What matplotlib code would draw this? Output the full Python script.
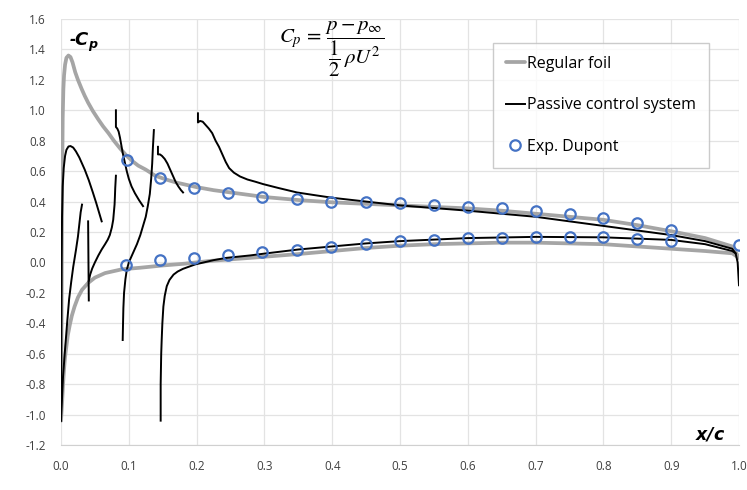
import numpy as np
import matplotlib
matplotlib.use("Agg")
import matplotlib.pyplot as plt

# Regular foil (grey), -Cp along x/c
foil_up_x = [0.0, 0.0008, 0.0015, 0.0025, 0.0035, 0.0045, 0.006, 0.008, 0.011, 0.014, 0.017,
             0.021, 0.025, 0.0305, 0.035, 0.040, 0.047, 0.055, 0.062, 0.070, 0.078, 0.087,
             0.097, 0.107, 0.114, 0.125, 0.139, 0.155, 0.17, 0.185, 0.2, 0.225, 0.25, 0.3,
             0.35, 0.4, 0.45, 0.5, 0.55, 0.6, 0.65, 0.7, 0.75, 0.8, 0.85, 0.9, 0.95, 0.99, 1.0]
foil_up_y = [-1.04, -0.4, 0.4, 0.95, 1.14, 1.23, 1.30, 1.345, 1.36, 1.35, 1.315,
             1.25, 1.20, 1.14, 1.095, 1.05, 0.995, 0.94, 0.895, 0.85, 0.80, 0.75,
             0.70, 0.66, 0.636, 0.61, 0.57, 0.545, 0.525, 0.51, 0.495, 0.475, 0.46, 0.43,
             0.41, 0.395, 0.385, 0.375, 0.365, 0.355, 0.34, 0.32, 0.30, 0.28, 0.245, 0.205,
             0.16, 0.105, 0.03]
foil_lo_x = [0.0, 0.0008, 0.0015, 0.003, 0.0045, 0.006, 0.008, 0.01, 0.013, 0.016, 0.02,
             0.025, 0.031, 0.04, 0.05, 0.065, 0.09, 0.1165, 0.15, 0.183, 0.22, 0.279, 0.35,
             0.4, 0.45, 0.5, 0.55, 0.6, 0.65, 0.7, 0.75, 0.8, 0.85, 0.9, 0.95, 0.99, 1.0]
foil_lo_y = [-1.04, -0.98, -0.93, -0.80, -0.70, -0.62, -0.55, -0.48, -0.41, -0.35, -0.29,
             -0.23, -0.18, -0.135, -0.10, -0.07, -0.045, -0.035, -0.02, -0.008, 0.01, 0.03, 0.055,
             0.075, 0.095, 0.11, 0.12, 0.125, 0.13, 0.13, 0.125, 0.12, 0.105, 0.09, 0.075, 0.06, 0.03]

# Passive control system (black), broken into pieces at the slots
pcs_1_x = [0.0, 0.0005, 0.001, 0.0015, 0.0025, 0.004, 0.006, 0.008, 0.011, 0.014, 0.018,
           0.022, 0.027, 0.031, 0.035, 0.041, 0.047, 0.052, 0.056, 0.06]
pcs_1_y = [-1.04, -0.5, 0.0, 0.3, 0.5, 0.62, 0.70, 0.74, 0.762, 0.765, 0.755,
           0.73, 0.69, 0.65, 0.61, 0.54, 0.46, 0.39, 0.33, 0.27]
pcs_2_x = [0.0, 0.003, 0.006, 0.009, 0.012, 0.015, 0.018, 0.022, 0.025, 0.029, 0.031]
pcs_2_y = [-1.04, -0.75, -0.57, -0.40, -0.24, -0.13, -0.03, 0.08, 0.17, 0.33, 0.38]
pcs_3_x = [0.040, 0.0405, 0.041]
pcs_3_y = [0.27, 0.0, -0.25]
pcs_4_x = [0.041, 0.043, 0.046, 0.05, 0.055, 0.06, 0.065, 0.069, 0.072, 0.075, 0.077,
           0.078, 0.079, 0.0795, 0.080, 0.081]
pcs_4_y = [-0.12, -0.08, -0.04, 0.0, 0.045, 0.085, 0.12, 0.15, 0.18, 0.23, 0.28,
           0.33, 0.38, 0.43, 0.49, 0.57]
pcs_5_x = [0.081, 0.081, 0.083, 0.085, 0.087, 0.089, 0.091, 0.094, 0.097, 0.100, 0.104,
           0.109, 0.115, 0.121]
pcs_5_y = [1.0, 0.89, 0.88, 0.86, 0.82, 0.77, 0.72, 0.66, 0.60, 0.55, 0.5,
           0.455, 0.41, 0.37]
pcs_6_x = [0.091, 0.0915, 0.092, 0.093, 0.095, 0.097, 0.100, 0.104, 0.108, 0.112, 0.117,
           0.121, 0.125, 0.128, 0.131, 0.133, 0.1345, 0.1355, 0.137]
pcs_6_y = [-0.51, -0.4, -0.3, -0.2, -0.11, -0.05, 0.0, 0.04, 0.08, 0.12, 0.18,
           0.24, 0.3, 0.37, 0.45, 0.55, 0.65, 0.75, 0.87]
pcs_7_x = [0.143, 0.143, 0.146, 0.149, 0.153, 0.157, 0.161, 0.165, 0.169, 0.173, 0.177, 0.18]
pcs_7_y = [0.76, 0.71, 0.71, 0.70, 0.68, 0.65, 0.61, 0.57, 0.53, 0.50, 0.475, 0.46]
pcs_8_x = [0.147, 0.147, 0.1478, 0.1485, 0.1495, 0.151, 0.153, 0.156, 0.16, 0.166, 0.172,
           0.18, 0.198, 0.225, 0.244, 0.279, 0.3, 0.35, 0.4, 0.45, 0.5, 0.55, 0.6, 0.7,
           0.8, 0.9, 0.95, 0.99, 0.995]
pcs_8_y = [-1.04, -0.8, -0.6, -0.51, -0.4, -0.29, -0.22, -0.156, -0.115, -0.08, -0.06,
           -0.042, -0.013, 0.015, 0.03, 0.046, 0.058, 0.085, 0.105, 0.125, 0.14, 0.15, 0.16, 0.168,
           0.165, 0.148, 0.12, 0.075, 0.06]
pcs_9_x = [0.202, 0.202, 0.205, 0.209, 0.213, 0.218, 0.223, 0.228, 0.233, 0.238, 0.243,
           0.248, 0.255, 0.264, 0.275, 0.287, 0.298, 0.32, 0.348, 0.37, 0.4, 0.45, 0.5,
           0.6, 0.7, 0.75, 0.8, 0.9, 0.95, 0.99, 0.995, 0.998, 1.0]
pcs_9_y = [0.98, 0.92, 0.93, 0.925, 0.905, 0.88, 0.85, 0.80, 0.76, 0.71, 0.66,
           0.62, 0.59, 0.565, 0.545, 0.53, 0.515, 0.49, 0.46, 0.445, 0.425, 0.40, 0.375,
           0.34, 0.30, 0.27, 0.24, 0.18, 0.14, 0.09, 0.06, 0.0, -0.15]
pcs_x = [pcs_1_x, pcs_2_x, pcs_3_x, pcs_4_x, pcs_5_x, pcs_6_x, pcs_7_x, pcs_8_x, pcs_9_x]
pcs_y = [pcs_1_y, pcs_2_y, pcs_3_y, pcs_4_y, pcs_5_y, pcs_6_y, pcs_7_y, pcs_8_y, pcs_9_y]

# Exp. Dupont
exp_up_x = [0.097, 0.146, 0.196, 0.246, 0.296, 0.348, 0.398, 0.45, 0.5, 0.55, 0.6,
            0.65, 0.7, 0.75, 0.8, 0.85, 0.9, 1.0]
exp_up_y = [0.67, 0.555, 0.49, 0.455, 0.43, 0.415, 0.40, 0.40, 0.39, 0.376, 0.365,
            0.355, 0.335, 0.317, 0.29, 0.26, 0.21, 0.115]
exp_lo_x = [0.096, 0.146, 0.196, 0.246, 0.297, 0.348, 0.398, 0.45, 0.5, 0.55, 0.6,
            0.65, 0.7, 0.75, 0.8, 0.85, 0.9]
exp_lo_y = [-0.015, 0.015, 0.03, 0.048, 0.066, 0.08, 0.10, 0.12, 0.14, 0.145, 0.16,
            0.16, 0.17, 0.165, 0.165, 0.155, 0.14]

plt.rcParams['font.family'] = ['Open Sans', 'DejaVu Sans']
plt.rcParams['mathtext.fontset'] = 'custom'
plt.rcParams['mathtext.bf'] = 'DejaVu Sans:bold:italic'

fig = plt.figure(figsize=(7.47, 4.90), dpi=100)
ax = fig.add_axes([61/747, 1-445/490, 678/747, 426/490])

grey = '#a5a5a5'
ax.plot(foil_up_x, foil_up_y, color=grey, lw=2.7, label='Regular foil',
        solid_capstyle='round', solid_joinstyle='round')
ax.plot(foil_lo_x, foil_lo_y, color=grey, lw=2.7, solid_capstyle='round',
        solid_joinstyle='round')

for i in range(len(pcs_x)):
    ax.plot(pcs_x[i], pcs_y[i], color='black', lw=1.4, solid_joinstyle='round',
            label='Passive control system' if i == 0 else None)

ax.plot(exp_up_x, exp_up_y, 'o', mfc='none', mec='#4472c4', mew=1.6, ms=7.5,
        label='Exp. Dupont')
ax.plot(exp_lo_x, exp_lo_y, 'o', mfc='none', mec='#4472c4', mew=1.6, ms=7.5)

ax.set_xlim(0, 1.0)
ax.set_ylim(-1.2, 1.6)
xt = np.arange(0, 1.01, 0.1)
yt = np.arange(-1.2, 1.61, 0.2)
ax.set_xticks(xt)
ax.set_yticks(yt)
ax.set_xticklabels(['%.1f' % v for v in xt])
ax.set_yticklabels(['%.1f' % v if abs(v) > 1e-9 else '0.0' for v in yt])
ax.tick_params(length=0, labelsize=8.5, colors='#404040', pad=11)
ax.grid(True, color='#e3e3e3', lw=0.9)
ax.set_axisbelow(True)
for s in ['top', 'right', 'left']:
    ax.spines[s].set_visible(False)
ax.spines['bottom'].set_color('#d0d0d0')

ax.text(0.012, 1.52, r'-$\mathbf{C_p}$', fontsize=13, fontweight='bold',
        fontstyle='italic', va='top', ha='left')
ax.text(0.98, -1.13, r'$\mathbf{x/c}$', fontsize=12.5, ha='right', va='center')
ax.text(0.322, 1.40, r'$C_p\,=\,\dfrac{p-p_\infty}{\dfrac{1}{2}\,\rho U^2}$', fontsize=15,
        math_fontfamily='stix', ha='left', va='center')

leg = ax.legend(loc='upper left', bbox_to_anchor=(493/747, 1-43/490),
                bbox_transform=fig.transFigure, fontsize=11.5, frameon=True,
                fancybox=False, edgecolor='#bfbfbf', handlelength=1.2,
                handletextpad=0.15, labelspacing=1.6, borderpad=0.8, borderaxespad=0)
leg.get_frame().set_linewidth(1.0)

fig.savefig('out.png', dpi=100)
